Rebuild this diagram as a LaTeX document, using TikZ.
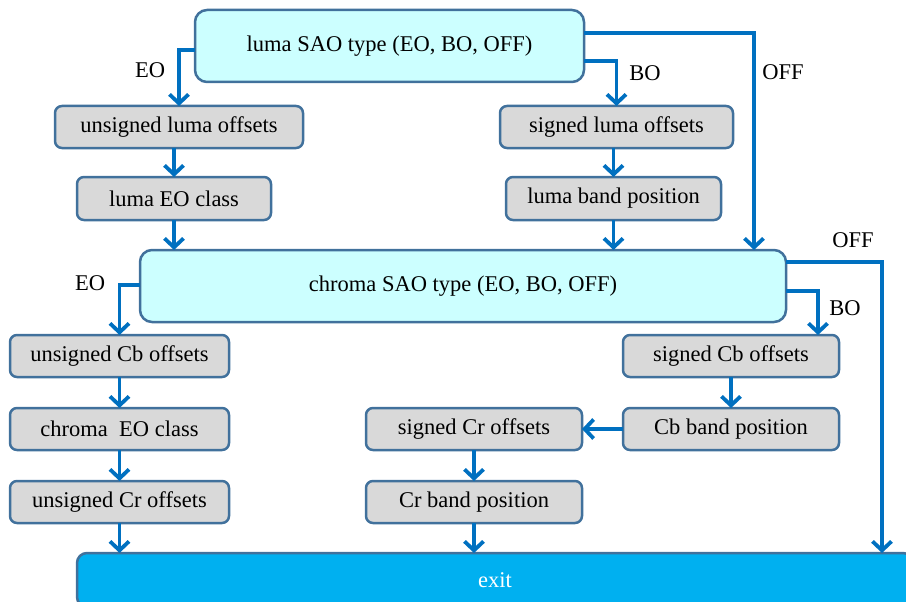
\documentclass[tikz,border=0pt]{standalone}
\usepackage{fontspec}
\setmainfont{Liberation Serif}
\usetikzlibrary{arrows.meta}
\definecolor{flowblue}{HTML}{0070C0}
\definecolor{edgeblue}{HTML}{41719C}
\definecolor{typefill}{HTML}{CCFFFF}
\definecolor{stepfill}{HTML}{D9D9D9}
\definecolor{exitfill}{HTML}{00B0F0}
\begin{document}
\begin{tikzpicture}[x=1pt,y=-1pt,
  font=\fontsize{22.5}{26}\selectfont,
  box/.style={draw=edgeblue,line width=2.5pt,inner sep=0pt,outer sep=0pt,
    rectangle,anchor=center},
  stepbox/.style={box,fill=stepfill,rounded corners=7pt},
  typebox/.style={box,fill=typefill,rounded corners=12pt},
  flow/.style={draw=flowblue,line width=3.8pt,
    -{Straight Barb[length=9pt,width=19pt]}},
  lbl/.style={inner sep=0pt}]
\useasboundingbox (0,0) rectangle (906,602);
\clip (0,0) rectangle (906,602);

% luma branch
\node[typebox,minimum width=389pt,minimum height=72pt] (luma) at (389.5,46) {luma SAO type (EO, BO, OFF)};
\node[stepbox,minimum width=248pt,minimum height=42pt] (uluma) at (179,127) {unsigned luma offsets};
\node[stepbox,minimum width=194pt,minimum height=43pt] (leo) at (174,198.5) {luma EO class};
\node[stepbox,minimum width=233pt,minimum height=42pt] (sluma) at (616.5,127) {signed luma offsets};
\node[stepbox,minimum width=215pt,minimum height=43pt] (lband) at (613.5,198.5) {luma band position};

% chroma branch
\node[typebox,minimum width=646pt,minimum height=72pt] (chroma) at (463,286) {chroma SAO type (EO, BO, OFF)};
\node[stepbox,minimum width=219pt,minimum height=42pt] (ucb) at (119.5,356) {unsigned Cb offsets};
\node[stepbox,minimum width=219pt,minimum height=42pt] (ceo) at (119.5,429) {chroma\ \ EO class};
\node[stepbox,minimum width=219pt,minimum height=42pt] (ucr) at (119.5,502) {unsigned Cr offsets};
\node[stepbox,minimum width=216pt,minimum height=42pt] (scb) at (731,356) {signed Cb offsets};
\node[stepbox,minimum width=216pt,minimum height=42pt] (cbband) at (731,429) {Cb band position};
\node[stepbox,minimum width=216pt,minimum height=42pt] (scr) at (474,429) {signed Cr offsets};
\node[stepbox,minimum width=216pt,minimum height=42pt] (crband) at (474,502) {Cr band position};

% exit bar
\node[box,fill=exitfill,rounded corners=10pt,minimum width=836pt,minimum height=54pt,text=white] (exit) at (495,580) {exit};

\coordinate (lumaoff) at (754,0);
\coordinate (chromaoff) at (882,0);

% luma connectors
\draw[flow] ([yshift=-4pt]luma.west) -| (uluma.north);
\draw[flow] ([yshift=-15pt]luma.east) -| (sluma.north);
\draw[flow] ([yshift=13pt]luma.east) -| (chroma.north -| lumaoff);
\draw[flow] (leo.north |- uluma.south) -- (leo.north);
\draw[flow] (leo.south) -- (leo.south |- chroma.north);
\draw[flow] (lband.north |- sluma.south) -- (lband.north);
\draw[flow] (lband.south) -- (lband.south |- chroma.north);

% chroma connectors
\draw[flow] ([yshift=1pt]chroma.west) -| (ucb.north);
\draw[flow] ([yshift=-5pt]chroma.east) -| ([xshift=87pt]scb.north);
\draw[flow] ([yshift=24pt]chroma.east) -| (exit.north -| chromaoff);
\draw[flow] (ucb.south) -- (ceo.north);
\draw[flow] (ceo.south) -- (ucr.north);
\draw[flow] (ucr.south) -- (ucr.south |- exit.north);
\draw[flow] (scb.south) -- (cbband.north);
\draw[flow] (cbband.west) -- (scr.east);
\draw[flow] (scr.south) -- (crband.north);
\draw[flow] (crband.south) -- (crband.south |- exit.north);

% branch labels
\node[lbl] (lEO) at (150,70) {EO};
\node[lbl] (lBO) at (645,73) {BO};
\node[lbl] (lOFF) at (783,72) {OFF};
\node[lbl] (cEO) at (90,283) {EO};
\node[lbl] (cBO) at (845,308) {BO};
\node[lbl] (cOFF) at (853,240) {OFF};
\end{tikzpicture}
\end{document}
